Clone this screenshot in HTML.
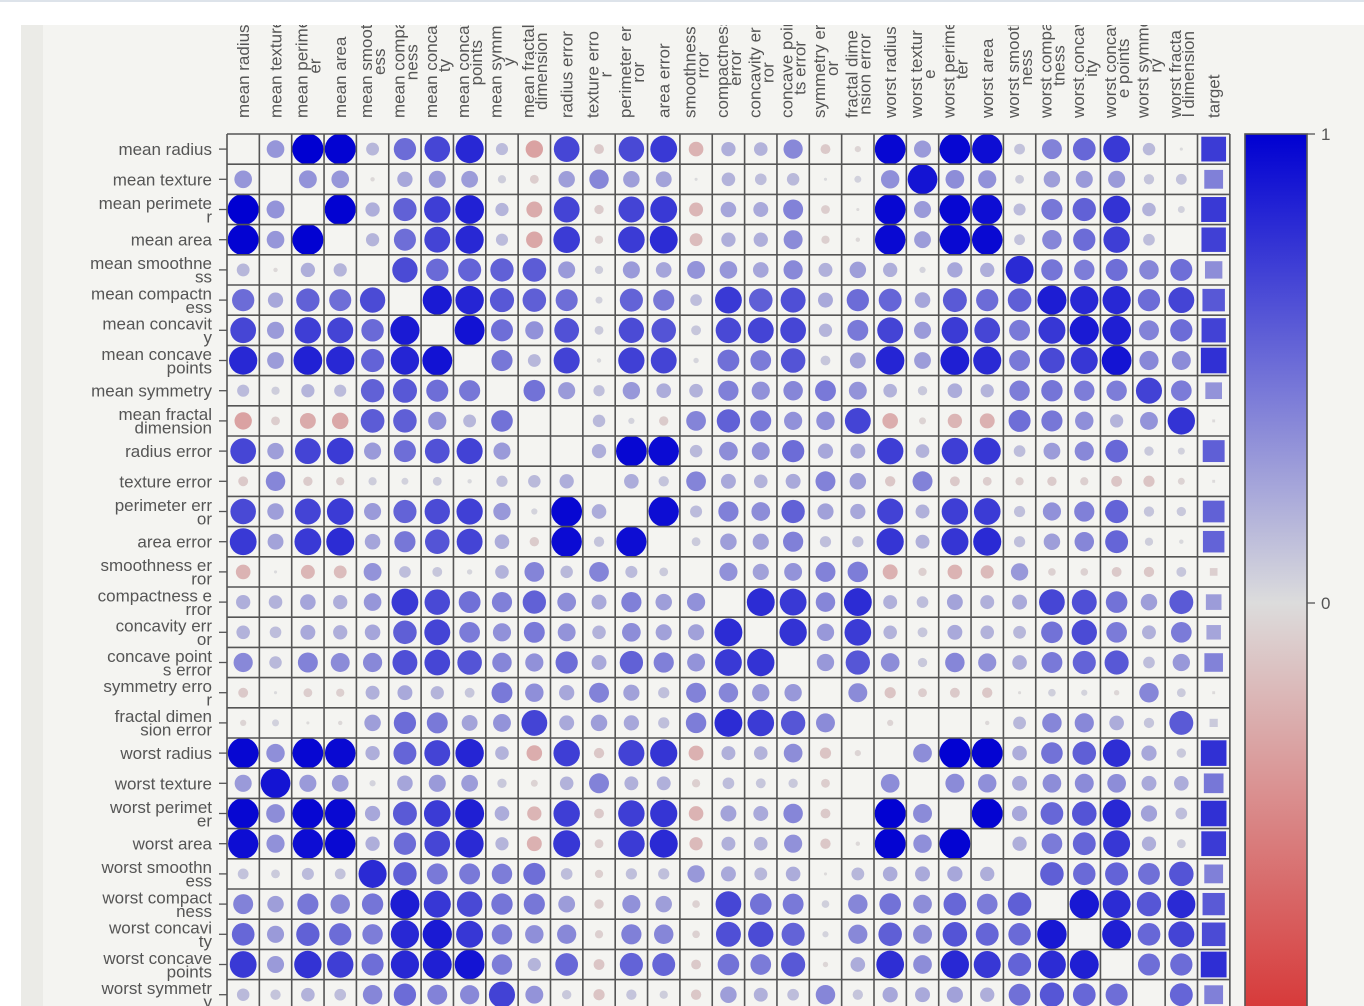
<!DOCTYPE html>
<html><head><meta charset="utf-8">
<style>
html,body{margin:0;padding:0;background:#fff;}
body{width:1364px;height:1006px;overflow:hidden;position:relative;font-family:"Liberation Sans",sans-serif;}
#topline{position:absolute;left:0;top:0;width:1364px;height:2px;background:#dde3ea;}
#panel{position:absolute;left:21px;top:25px;width:1343px;height:981px;background:#f4f4f1;overflow:hidden;}
#strip{position:absolute;left:0;top:0;width:22px;height:981px;background:#ebebe7;}
svg{position:absolute;left:-21px;top:-25px;}
</style></head>
<body>
<div id="topline"></div>
<div id="panel">
<div id="strip"></div>
<svg id="chart" width="1364" height="1006"></svg>
</div>
<script>
const featureNames = ["mean radius","mean texture","mean perimeter","mean area","mean smoothness","mean compactness","mean concavity","mean concave points","mean symmetry","mean fractal dimension","radius error","texture error","perimeter error","area error","smoothness error","compactness error","concavity error","concave points error","symmetry error","fractal dimension error","worst radius","worst texture","worst perimeter","worst area","worst smoothness","worst compactness","worst concavity","worst concave points","worst symmetry","worst fractal dimension"];
const targetName = "target";
const corrRows = [
[1,.32,.998,.987,.17,.51,.68,.82,.15,-.31,.68,-.10,.67,.74,-.22,.21,.19,.38,-.10,-.04,.97,.30,.97,.94,.12,.41,.53,.74,.16,.01],
[.32,1,.33,.32,-.02,.24,.30,.29,.07,-.08,.28,.39,.28,.26,.01,.19,.14,.16,.01,.05,.35,.91,.36,.34,.08,.28,.30,.30,.11,.12],
[.998,.33,1,.99,.21,.56,.72,.85,.18,-.26,.69,-.09,.69,.74,-.20,.25,.23,.41,-.08,-.01,.97,.30,.97,.94,.15,.46,.56,.77,.19,.05],
[.987,.32,.99,1,.18,.50,.69,.82,.15,-.28,.73,-.07,.73,.80,-.17,.21,.21,.37,-.07,-.02,.96,.29,.96,.96,.12,.39,.51,.72,.14,.00],
[.17,-.02,.21,.18,1,.66,.52,.55,.56,.58,.30,.07,.30,.25,.33,.32,.25,.38,.20,.28,.21,.04,.24,.21,.81,.47,.43,.50,.39,.50],
[.51,.24,.56,.50,.66,1,.88,.83,.60,.57,.50,.05,.55,.46,.14,.74,.57,.64,.23,.51,.54,.25,.59,.51,.57,.87,.82,.82,.51,.69],
[.68,.30,.72,.69,.52,.88,1,.92,.50,.34,.63,.08,.66,.62,.10,.67,.69,.68,.18,.45,.69,.30,.73,.68,.45,.75,.88,.86,.41,.51],
[.82,.29,.85,.82,.55,.83,.92,1,.46,.17,.70,.02,.71,.69,.03,.49,.44,.62,.10,.26,.83,.29,.86,.81,.45,.67,.75,.91,.38,.37],
[.15,.07,.18,.15,.56,.60,.50,.46,1,.48,.30,.13,.31,.22,.19,.42,.34,.39,.45,.33,.19,.09,.22,.18,.43,.47,.43,.43,.70,.44],
[-.31,-.08,-.26,-.28,.58,.57,.34,.17,.48,1,.00,.16,.04,-.09,.40,.56,.45,.34,.35,.69,-.25,-.05,-.21,-.23,.50,.46,.35,.18,.33,.77],
[.68,.28,.69,.73,.30,.50,.63,.70,.30,.00,1,.21,.97,.95,.16,.36,.33,.51,.24,.23,.72,.19,.72,.75,.14,.29,.38,.53,.09,.05],
[-.10,.39,-.09,-.07,.07,.05,.08,.02,.13,.16,.21,1,.22,.11,.40,.23,.19,.23,.41,.28,-.11,.41,-.10,-.08,-.07,-.09,-.07,-.12,-.13,-.05],
[.67,.28,.69,.73,.30,.55,.66,.71,.31,.04,.97,.22,1,.94,.15,.42,.36,.56,.27,.24,.70,.20,.72,.73,.13,.34,.42,.55,.11,.09],
[.74,.26,.74,.80,.25,.46,.62,.69,.22,-.09,.95,.11,.94,1,.08,.28,.27,.42,.13,.13,.76,.20,.76,.81,.13,.28,.39,.54,.07,.02],
[-.22,.01,-.20,-.17,.33,.14,.10,.03,.19,.40,.16,.40,.15,.08,1,.34,.27,.33,.41,.43,-.23,-.07,-.22,-.18,.31,-.06,-.06,-.10,-.11,.10],
[.21,.19,.25,.21,.32,.74,.67,.49,.42,.56,.36,.23,.42,.28,.34,1,.80,.74,.39,.80,.20,.14,.26,.20,.23,.68,.64,.48,.28,.59],
[.19,.14,.23,.21,.25,.57,.69,.44,.34,.45,.33,.19,.36,.27,.27,.80,1,.77,.31,.73,.19,.10,.23,.19,.17,.48,.66,.44,.20,.44],
[.38,.16,.41,.37,.38,.64,.68,.62,.39,.34,.51,.23,.56,.42,.33,.74,.77,1,.31,.61,.36,.09,.39,.34,.22,.45,.55,.60,.14,.31],
[-.10,.01,-.08,-.07,.20,.23,.18,.10,.45,.35,.24,.41,.27,.13,.41,.39,.31,.31,1,.37,-.13,-.08,-.10,-.11,-.01,.06,.04,-.03,.39,.08],
[-.04,.05,-.01,-.02,.28,.51,.45,.26,.33,.69,.23,.28,.24,.13,.43,.80,.73,.61,.37,1,-.04,-.00,-.00,-.02,.17,.39,.38,.22,.11,.59],
[.97,.35,.97,.96,.21,.54,.69,.83,.19,-.25,.72,-.11,.70,.76,-.23,.20,.19,.36,-.13,-.04,1,.36,.99,.98,.22,.48,.57,.79,.24,.09],
[.30,.91,.30,.29,.04,.25,.30,.29,.09,-.05,.19,.41,.20,.20,-.07,.14,.10,.09,-.08,-.00,.36,1,.37,.35,.23,.36,.37,.36,.23,.22],
[.97,.36,.97,.96,.24,.59,.73,.86,.22,-.21,.72,-.10,.72,.76,-.22,.26,.23,.39,-.10,-.00,.99,.37,1,.98,.24,.53,.62,.82,.27,.14],
[.94,.34,.94,.96,.21,.51,.68,.81,.18,-.23,.75,-.08,.73,.81,-.18,.20,.19,.34,-.11,-.02,.98,.35,.98,1,.21,.44,.54,.75,.21,.08],
[.12,.08,.15,.12,.81,.57,.45,.45,.43,.50,.14,-.07,.13,.13,.31,.23,.17,.22,-.01,.17,.22,.23,.24,.21,1,.57,.52,.55,.49,.62],
[.41,.28,.46,.39,.47,.87,.75,.67,.47,.46,.29,-.09,.34,.28,-.06,.68,.48,.45,.06,.39,.48,.36,.53,.44,.57,1,.89,.80,.61,.81],
[.53,.30,.56,.51,.43,.82,.88,.75,.43,.35,.38,-.07,.42,.39,-.06,.64,.66,.55,.04,.38,.57,.37,.62,.54,.52,.89,1,.86,.53,.69],
[.74,.30,.77,.72,.50,.82,.86,.91,.43,.18,.53,-.12,.55,.54,-.10,.48,.44,.60,-.03,.22,.79,.36,.82,.75,.55,.80,.86,1,.50,.51],
[.16,.11,.19,.14,.39,.51,.41,.38,.70,.33,.09,-.13,.11,.07,-.11,.28,.20,.14,.39,.11,.24,.23,.27,.21,.49,.61,.53,.50,1,.54],
[.01,.12,.05,.00,.50,.69,.51,.37,.44,.77,.05,-.05,.09,.02,.10,.59,.44,.31,.08,.59,.09,.22,.14,.08,.62,.81,.69,.51,.54,1]
];
const targetCorr = [.73,.42,.74,.71,.36,.60,.70,.78,.33,-.01,.57,-.01,.56,.55,-.07,.29,.25,.41,-.01,.08,.78,.46,.78,.73,.42,.59,.66,.79,.42,.32];
const colorbarTicks = [1,0];

const NS="http://www.w3.org/2000/svg";
const svg=document.getElementById('chart');
const X0=227,Y0=134,CW=32.35,CH=30.2,YMAX=1006;
const N=featureNames.length+1;
const labels=featureNames.concat([targetName]);
function mk(tag,attrs,parent){const e=document.createElementNS(NS,tag);for(const k in attrs)e.setAttribute(k,attrs[k]);(parent||svg).appendChild(e);return e;}
function xc(j){return X0+CW*(j+0.5);}
function yc(i){return Y0+CH*(i+0.5);}
function color(r){const t=Math.min(1,Math.abs(r));
 if(r>=0) return `rgb(${Math.round(220-220*t)},${Math.round(220-220*t)},${Math.round(220-10*t)})`;
 return `rgb(${Math.round(220-6*t)},${Math.round(220-188*t)},${Math.round(220-188*t)})`;}
function value(i,j){
 if(i<30&&j<30) return corrRows[i][j];
 if(i===30&&j===30) return 1;
 return i===30?targetCorr[j]:targetCorr[i];}
function chunks(s,n){const out=[];for(let k=0;k<s.length;k+=n)out.push(s.slice(k,k+n).trim());return out;}
const visRows=[];for(let i=0;i<N;i++){if(Y0+CH*i<YMAX-2)visRows.push(i);}

const gMarks=mk('g',{});


visRows.forEach(i=>{for(let j=0;j<N;j++){
 if(i===j) continue;
 const r=value(i,j);
 if(Math.abs(r)<0.005) continue;
 const s=Math.sqrt(Math.abs(r));
 let el;
 if(j===30||i===30){
  const side=29*s;
  const y=yc(i)-side/2;
  el=mk('rect',{x:xc(j)-side/2,y:y,width:side,height:Math.max(0,Math.min(side,YMAX-y)),fill:color(r)},gMarks);
  
 } else {
  el=mk('circle',{cx:xc(j),cy:yc(i),r:Math.min(15.6*s,Math.max(0.5,YMAX-yc(i)+15.6*s)>0?15.6*s:0),fill:color(r)},gMarks);
  
 }
 
}});

const gGrid=mk('g',{stroke:'#555',"stroke-width":1.6,fill:'none'});


const gridBottom=Math.min(YMAX,Y0+CH*N);
for(let k=0;k<=N;k++){
 mk('line',{x1:X0+CW*k,y1:Y0,x2:X0+CW*k,y2:gridBottom},gGrid);
 if(Y0+CH*k<YMAX) mk('line',{x1:X0,y1:Y0+CH*k,x2:X0+CW*N,y2:Y0+CH*k},gGrid);
}

visRows.forEach(i=>{
 if(yc(i)<YMAX){
 const t=mk('line',{x1:219,y1:yc(i),x2:X0,y2:yc(i),stroke:'#555',"stroke-width":1.3});
 
 }
 const lines=chunks(labels[i],13);
 lines.forEach((ln,k)=>{
  const y=yc(i)+(k-(lines.length-1)/2)*13.5+6;
  if(y-13>YMAX) return;
  const tx=mk('text',{x:212,y:y,"text-anchor":'end',"font-size":'17px',fill:'#555',"font-family":'Liberation Sans, sans-serif'});
  tx.textContent=ln;
  
  
 });
});
for(let j=0;j<N;j++){
 const lines=chunks(labels[j],12);
 const g=mk('g',{});
 
 
 const els=lines.map((ln,k)=>{
  const bx=xc(j)+(k-(lines.length-1)/2)*13+6;
  const tx=mk('text',{transform:`translate(${bx},118) rotate(-90)`,x:0,y:0,"text-anchor":'middle',"font-size":'17px',fill:'#555',"font-family":'Liberation Sans, sans-serif'},g);
  tx.textContent=ln;
  return tx;});
 let mx=0;els.forEach(e=>{mx=Math.max(mx,e.getComputedTextLength());});
 els.forEach(e=>e.setAttribute('x',mx/2));
}

const CBY1=134,CBY0=603;
function cbY(v){return CBY0-(CBY0-CBY1)*v;}
const defs=mk('defs',{});
const lg=mk('linearGradient',{id:'cb',gradientUnits:'userSpaceOnUse',x1:0,y1:cbY(1),x2:0,y2:cbY(-1)},defs);
[[0,'rgb(0,0,210)'],[0.5,'rgb(220,220,220)'],[1,'rgb(214,32,32)']].forEach(s=>mk('stop',{offset:s[0],"stop-color":s[1]},lg));
const cb=mk('rect',{x:1245,y:cbY(1),width:62,height:YMAX-cbY(1)+2,fill:'url(#cb)',stroke:'#555',"stroke-width":1.6});


colorbarTicks.forEach(v=>{
 const tl=mk('line',{x1:1307,y1:cbY(v),x2:1315,y2:cbY(v),stroke:'#555',"stroke-width":1.3});
 
 
 const tt=mk('text',{x:1321,y:cbY(v)+6,"font-size":'17px',fill:'#555',"font-family":'Liberation Sans, sans-serif'});
 tt.textContent=String(v);
 
 
});
</script>
</body></html>
